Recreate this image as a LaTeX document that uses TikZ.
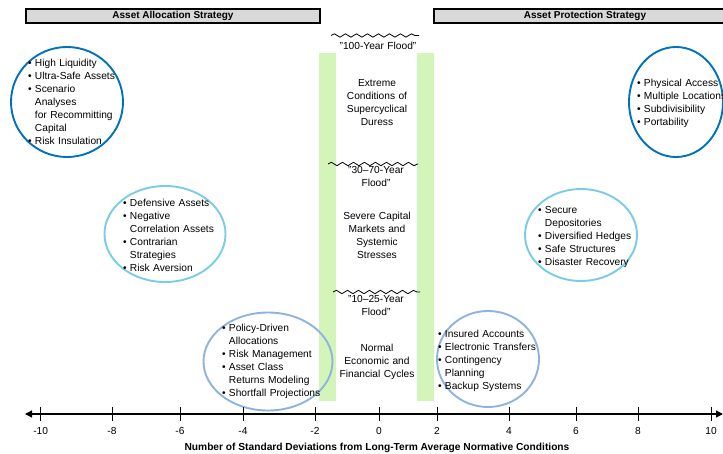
\documentclass[tikz,border=0pt]{standalone}
\usepackage{fontspec}
\setmainfont{Liberation Sans}
\usetikzlibrary{shapes.geometric,arrows.meta,decorations.pathmorphing}
\definecolor{bluedark}{RGB}{0,114,188}
\definecolor{bluecyan}{RGB}{120,205,228}
\definecolor{bluepale}{RGB}{143,178,222}
\definecolor{barfill}{RGB}{212,245,185}
\definecolor{hdrfill}{RGB}{217,217,217}
\newcommand{\bl}{\textbullet\ }
\newcommand{\ind}{\hphantom{\textbullet\ }}
\begin{document}
\begin{tikzpicture}[x=1pt,y=-1pt,
  every node/.style={inner sep=0pt, outer sep=0pt},
  body/.style={font=\fontsize{10.2}{13}\selectfont},
  listtext/.style={body, anchor=base west, text width=110pt, align=left},
  midtext/.style={body, anchor=base, text width=90pt, align=center},
  ring/.style={ellipse, draw, line width=1.9pt, minimum width=#1},
  hdr/.style={draw=black, line width=2pt, fill=hdrfill, minimum height=14pt, font=\bfseries\fontsize{10}{12}\selectfont},
  bar/.style={fill=barfill, draw=none, anchor=north west, minimum width=17pt, minimum height=348pt},
  wave/.style={decorate, decoration={snake, segment length=11pt, amplitude=1.7pt}, line width=0.8pt},
  tickmark/.style={line width=1pt},
  axisline/.style={line width=1.2pt, {Triangle[length=7pt,width=7pt]}-{Triangle[length=7pt,width=7pt]}},
]
\useasboundingbox (0,0) rectangle (723,453);

% headers
\node[hdr, minimum width=294pt] (hL) at (173,16.3) {Asset Allocation Strategy};
\node[hdr, minimum width=302pt] (hR) at (585,16.3) {Asset Protection Strategy};

% green bars
\node[bar] (barL) at (319,53) {};
\node[bar] (barR) at (417,53) {};

% ellipses
\node[ring=112pt, draw=bluedark, minimum height=110pt] (eTL) at (67,102) {};
\node[ring=94pt, draw=bluedark, minimum height=110pt] (eTR) at (676,102) {};
\node[ring=121pt, draw=bluecyan, minimum height=96pt] (eML) at (165,234) {};
\node[ring=112pt, draw=bluecyan, minimum height=92pt] (eMR) at (581,235) {};
\node[ring=129pt, draw=bluepale, minimum height=98pt] (eLL) at (268,361.5) {};
\node[ring=102pt, draw=bluepale, minimum height=96pt] (eLR) at (488,359) {};

% list texts
\node[listtext] (tTL) at (28,66.5) {\bl High Liquidity\\ \bl Ultra-Safe Assets\\ \bl Scenario\\ \ind Analyses\\ \ind for Recommitting\\ \ind Capital\\ \bl Risk Insulation};
\node[listtext] (tTR) at (637,86.5) {\bl Physical Access\\ \bl Multiple Locations\\ \bl Subdivisibility\\ \bl Portability};
\node[listtext] (tML) at (123,206.5) {\bl Defensive Assets\\ \bl Negative\\ \ind Correlation Assets\\ \bl Contrarian\\ \ind Strategies\\ \bl Risk Aversion};
\node[listtext] (tMR) at (538,213.5) {\bl Secure\\ \ind Depositories\\ \bl Diversified Hedges\\ \bl Safe Structures\\ \bl Disaster Recovery};
\node[listtext] (tLL) at (222,331.5) {\bl Policy-Driven\\ \ind Allocations\\ \bl Risk Management\\ \bl Asset Class\\ \ind Returns Modeling\\ \bl Shortfall Projections};
\node[listtext] (tLR) at (438,337.5) {\bl Insured Accounts\\ \bl Electronic Transfers\\ \bl Contingency\\ \ind Planning\\ \bl Backup Systems};

% waves
\coordinate (w1a) at (331,35.5); \coordinate (w1b) at (419,35.5);
\coordinate (w2a) at (328,164);  \coordinate (w2b) at (418,164);
\coordinate (w3a) at (333,292);  \coordinate (w3b) at (420,292);
\draw[wave] (w1a) -- (w1b);
\draw[wave] (w2a) -- (w2b);
\draw[wave] (w3a) -- (w3b);

% middle texts
\node[midtext] (fl1) at (378,49.5) {"100-Year Flood"};
\node[midtext] (ext) at (377,86.5) {Extreme\\Conditions of\\Supercyclical\\Duress};
\node[midtext] (fl2) at (376,173.5) {"30\textendash70-Year\\Flood"};
\node[midtext] (sev) at (377,219.5) {Severe Capital\\Markets and\\Systemic\\Stresses};
\node[midtext] (fl3) at (376,302.5) {"10\textendash25-Year\\Flood"};
\node[midtext] (nor) at (377,351.5) {Normal\\Economic and\\Financial Cycles};

% axis
\coordinate (axL) at (25,414);
\coordinate (axR) at (723,414);
\draw[axisline] (axL) -- (axR);
\foreach \xx/\lab in {40.7/-10,112/-8,180/-6,243/-4,315/-2,379/0,437/2,509/4,576/6,638/8,711/10}{
  \draw[tickmark] (\xx,407) -- (\xx,421);
  \node[body, anchor=base] at (\xx,434.5) {\lab};
}
\node[font=\bfseries\fontsize{10.2}{12}\selectfont, anchor=base] (axT) at (377,450.5) {Number of Standard Deviations from Long-Term Average Normative Conditions};
\end{tikzpicture}
\end{document}
